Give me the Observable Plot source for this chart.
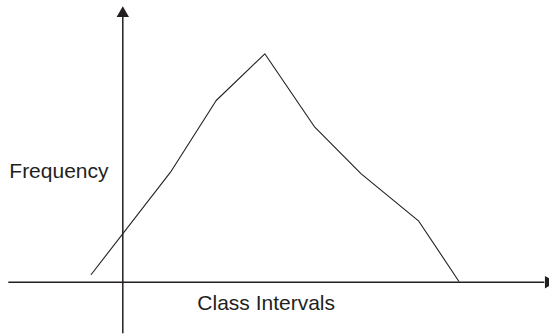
<!DOCTYPE html>
<html>
<head>
<meta charset="utf-8">
<script src="https://cdn.jsdelivr.net/npm/d3@7"></script>
<script src="https://cdn.jsdelivr.net/npm/@observablehq/plot@0.6"></script>
<style>
  html, body { margin: 0; padding: 0; background: #fff; }
</style>
</head>
<body>
<div id="chart"></div>
<script>
// Frequency polygon (arbitrary units)
const classMidpoints = [-3.16, 4.77, 9.34, 14.2, 19.2, 23.84, 29.6, 33.6];
const frequencies   = [0.77, 11.0, 18.17, 22.84, 15.5, 10.84, 6.1, 0.1];
const yAxisLabel = "Frequency";
const xAxisLabel = "Class Intervals";

const ink = "#231f20";
const points = classMidpoints.map((x, i) => ({x, y: frequencies[i]}));

const chart = Plot.plot({
  width: 549,
  height: 335,
  margin: 0,
  x: {domain: [-12.23, 42.67], range: [0, 549], axis: null},
  y: {domain: [-5.33, 28.17], range: [335, 0], axis: null},
  style: {background: "#fff", fontFamily: "'Liberation Sans', Arial, sans-serif"},
  marks: [
    // x axis line
    Plot.ruleY([0], {x1: -11.4, x2: 42.2, stroke: ink, strokeWidth: 1.5}),
    // y axis line
    Plot.ruleX([0], {y1: -5.15, y2: 26.6, stroke: ink, strokeWidth: 1.5}),
    // arrowheads
    Plot.dot([{x: 0, y: 26.87}], {x: "x", y: "y", symbol: "triangle", r: 4.6, fill: ink, stroke: null}),
    Plot.dot([{x: 42.57, y: 0}], {x: "x", y: "y", symbol: "triangle", r: 4.6, fill: ink, stroke: null, rotate: 90}),
    // polygon
    Plot.line(points, {x: "x", y: "y", stroke: ink, strokeWidth: 1.1}),
    // labels
    Plot.text([yAxisLabel], {x: -11.35, y: 10.44, text: d => d, textAnchor: "start", lineAnchor: "bottom", fontSize: 21, fill: ink}),
    Plot.text([xAxisLabel], {x: 7.45, y: -2.73, text: d => d, textAnchor: "start", lineAnchor: "bottom", fontSize: 21, fill: ink})
  ]
});
document.getElementById("chart").appendChild(chart);
</script>
</body>
</html>
